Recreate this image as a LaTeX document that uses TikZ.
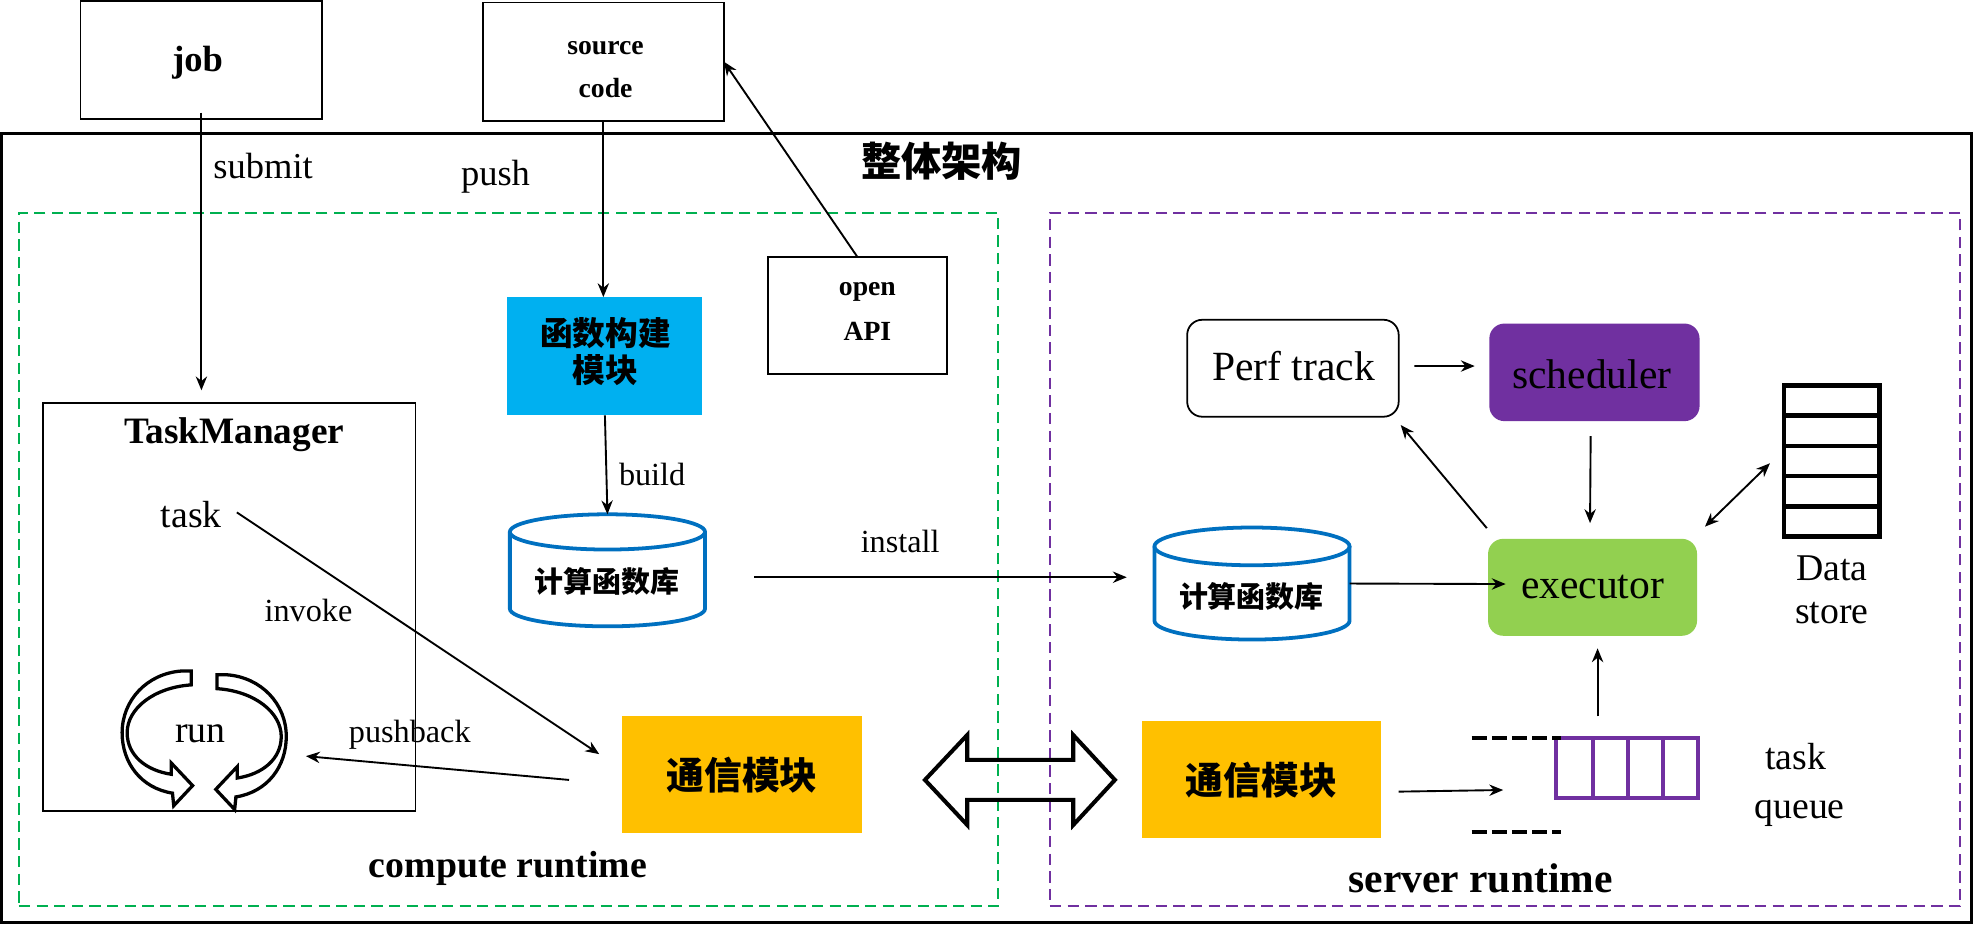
\documentclass[tikz,border=0pt]{standalone}
\usepackage{fontspec}
\setmainfont{Liberation Serif}
\newfontfamily\cjk{Noto Sans CJK SC}
\usetikzlibrary{arrows.meta,fit}
\definecolor{cgreen}{HTML}{00B050}
\definecolor{cpurple}{HTML}{7030A0}
\definecolor{cblue}{HTML}{00B0F0}
\definecolor{cylblue}{HTML}{0070C0}
\definecolor{cyellow}{HTML}{FFC000}
\definecolor{lgreen}{HTML}{92D050}
\tikzset{
  plain/.style={inner sep=0pt, outer sep=0pt},
  box/.style={plain, draw, line width=0.7pt},
  rbox/.style={plain, rounded corners=6pt},
  arr/.style={line width=0.75pt, -{Stealth[length=5.5pt,width=4.5pt]}},
  darr/.style={line width=0.75pt, {Stealth[length=5.5pt,width=4.5pt]}-{Stealth[length=5.5pt,width=4.5pt]}},
  lbl/.style={plain, font=\fontsize{12.8}{15}\selectfont},
  big/.style={plain, font=\fontsize{15}{18}\selectfont},
  huge/.style={plain, font=\fontsize{16.5}{19}\selectfont},
  bsmall/.style={plain, font=\bfseries\fontsize{11}{13}\selectfont},
  cjkt/.style={plain, font=\cjk\bfseries\fontsize{#1}{#1}\selectfont},
  cyl/.style={draw=cylblue, line width=1.5pt},
  runarr/.style={draw, line width=1.3pt, line join=miter},
}
\begin{document}
\begin{tikzpicture}[x=0.5pt,y=-0.5pt]
\useasboundingbox (0,0) rectangle (1568,736);
\fill[white] (0,0) rectangle (1568,736);

% frames
\node[plain, draw, line width=1.2pt, fit={(1.5,106) (1566,733)}] (outer) {};
\node[plain, draw=cgreen, line width=0.8pt, dash pattern=on 4.5pt off 2.5pt, fit={(15,169) (793,720)}] (compute) {};
\node[plain, draw=cpurple, line width=0.8pt, dash pattern=on 4.5pt off 2.5pt, fit={(834,169) (1557,720)}] (server) {};
\node[cjkt=16] (title) at (748,128) {整体架构};

% top boxes
\node[box, fit={(64,1) (256,94.5)}] (job) {};
\node[plain, font=\bfseries\fontsize{14.5}{17}\selectfont] (jobt) at (157,50) {job};
\node[box, fit={(383.5,2) (575,96)}] (src) {};
\node[bsmall] (srct1) at (481,38) {source};
\node[bsmall] (srct2) at (481,70) {code};
\node[box, fit={(610,204) (752,297)}] (api) {};
\node[bsmall] (apit1) at (689,232) {open};
\node[bsmall] (apit2) at (689,263.5) {API};

% function build module
\node[plain, fill=cblue, fit={(403,236) (558,330)}] (fb) {};
\node[cjkt=13] (fbt1) at (481,265) {函数构建};
\node[cjkt=13] (fbt2) at (481,294) {模块};

% left cylinder
\node[plain, fit={(405,408.5) (560,497.5)}] (lcyl) {};
\draw[cyl] (482.5,422.5) ellipse [x radius=38.75pt, y radius=7pt];
\draw[cyl] (405,422.5) -- (405,483.5) arc[start angle=180, end angle=360, x radius=38.75pt, y radius=7pt] -- (560,422.5);
\node[cjkt=11.5] (lcylt) at (482,462) {计算函数库};

% TaskManager
\node[plain, draw, line width=0.6pt, fit={(34,320) (330,644)}] (tm) {};
\node[plain, font=\bfseries\fontsize{14.8}{17}\selectfont] (tmt) at (186,345) {TaskManager};
\node[big] (task) at (152,409) {task};
\node[big] (run) at (159,582.5) {run};
\draw[runarr] (144,533) -- (152,533) -- (152,544)
  .. controls (122,546) and (101,563) .. (101,582)
  .. controls (101,600) and (116,612) .. (136,615)
  -- (136,606) -- (153,624) -- (138,640) -- (137,630)
  .. controls (112,626) and (97,606) .. (97,582)
  .. controls (97,556) and (117,535) .. (144,533) -- cycle;
\begin{scope}[shift={(324.4,3)}, xscale=-1]
\draw[runarr] (144,533) -- (152,533) -- (152,544)
  .. controls (122,546) and (101,563) .. (101,582)
  .. controls (101,600) and (116,612) .. (136,615)
  -- (136,606) -- (153,624) -- (138,640) -- (137,630)
  .. controls (112,626) and (97,606) .. (97,582)
  .. controls (97,556) and (117,535) .. (144,533) -- cycle;
\end{scope}
\coordinate (runR) at (243,600.6);

% left comm module
\node[plain, fill=cyellow, fit={(494,569) (685,662)}] (ltx) {};
\node[cjkt=15] (ltxt) at (589.5,615.5) {通信模块};

% double block arrow
\draw[line width=1.6pt, line join=miter] (734.7,619.5) -- (768.3,583.8) -- (768.3,603.6) -- (852.5,603.6) -- (852.5,583.8) -- (885.6,619.5) -- (852.5,655.3) -- (852.5,635.4) -- (768.3,635.4) -- (768.3,655.3) -- cycle;

% right comm module
\node[plain, fill=cyellow, fit={(907,573) (1097,666)}] (rtx) {};
\node[cjkt=15] (rtxt) at (1002,619.5) {通信模块};

% right cylinder
\node[plain, fit={(917,419) (1072,508)}] (rcyl) {};
\draw[cyl] (994.5,434) ellipse [x radius=38.75pt, y radius=7.5pt];
\draw[cyl] (917,434) -- (917,493) arc[start angle=180, end angle=360, x radius=38.75pt, y radius=7.5pt] -- (1072,434);
\node[cjkt=11.5] (rcylt) at (994,474) {计算函数库};

% server boxes
\node[rbox, draw, line width=0.7pt, fit={(943,254) (1111,331)}] (perf) {};
\node[huge] (perft) at (1027.5,291) {Perf track};
\node[rbox, fill=cpurple, fit={(1183,257) (1350,334.5)}] (sched) {};
\node[huge] (schedt) at (1264.5,297) {scheduler};
\node[rbox, fill=lgreen, fit={(1182,428) (1348,505)}] (exec) {};
\node[huge] (exect) at (1265,466) {executor};

% data store
\node[plain, draw, line width=1.8pt, fit={(1417,306) (1493,426)}] (ds) {};
\foreach \yy in {330.2,354.3,378.1,402.4} \draw[line width=1.8pt] (1417,\yy) -- (1493,\yy);
\node[big, anchor=base] (dst1) at (1455,461) {Data};
\node[big, anchor=base] (dst2) at (1455,495) {store};

% task queue
\node[plain, draw=cpurple, line width=1.6pt, fit={(1236,586) (1349,634)}] (queue) {};
\foreach \xx in {1265,1293.3,1321} \draw[cpurple, line width=1.6pt] (\xx,586) -- (\xx,634);
\draw[line width=1.6pt, dash pattern=on 6pt off 2pt] (1169,586.5) -- (1240,586.5);
\draw[line width=1.6pt, dash pattern=on 6pt off 2pt] (1169,660.6) -- (1240,660.6);
\node[big, anchor=base] (qt1) at (1426.5,611) {task};
\node[big, anchor=base] (qt2) at (1429.5,650) {queue};

% labels
\node[plain, font=\fontsize{14.5}{17}\selectfont] (submit) at (209,132) {submit};
\node[plain, font=\fontsize{14.5}{17}\selectfont] (push) at (393.6,140) {push};
\node[lbl] (invoke) at (245,485) {invoke};
\node[lbl] (pushback) at (325.5,584) {pushback};
\node[lbl] (build) at (518,377) {build};
\node[lbl] (install) at (715,430) {install};
\node[plain, font=\bfseries\fontsize{15}{18}\selectfont] (crt) at (403.5,690) {compute runtime};
\node[plain, font=\bfseries\fontsize{16.5}{19}\selectfont] (srt) at (1176,698) {server runtime};

% connectors
\draw[arr] ([yshift=2.5pt]job.south) -- ([yshift=5pt]job.south |- tm.north);
\draw[arr] (src.south) -- (src.south |- fb.north);
\draw[arr] (api.north) -- (src.east);
\draw[arr] (fb.south) -- (lcyl.north);
\draw[arr] ([shift={(39,5.5)}]lcyl.east) -- ([shift={(-22,-5)}]rcyl.west);
\draw[arr] ([shift={(12,-2)}]task.east) -- ([shift={(-18,-16.5)}]ltx.west);
\draw[arr] ([shift={(-42,4)}]ltx.west) -- (runR);
\draw[arr] ([shift={(14,9.3)}]rtx.east) -- ([shift={(-42,17.5)}]queue.west);
\draw[arr] ([shift={(-23.5,-17)}]queue.north) -- ([shift={(4,10)}]exec.south);
\draw[arr] ([shift={(-3,12)}]sched.south) -- ([shift={(-2,-12.5)}]exec.north);
\draw[arr] ([shift={(-1,-8.5)}]exec.north west) -- ([shift={(1.6,6.6)}]perf.south east);
\draw[arr] ([shift={(12.5,-1.8)}]perf.east) -- ([shift={(-11.6,-5)}]sched.west);
\draw[darr] ([shift={(6.3,-9.7)}]exec.north east) -- ([shift={(-11.1,2)}]ds.west);
\draw[arr] (rcyl.east) -- ([shift={(14,-2.6)}]exec.west);
\end{tikzpicture}
\end{document}
